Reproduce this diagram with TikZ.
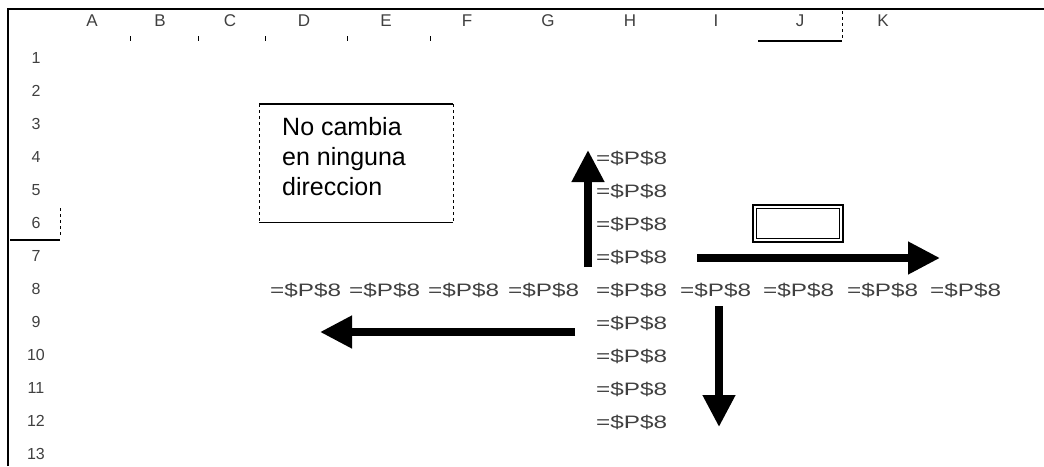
\documentclass[tikz,border=0pt]{standalone}
\usepackage{fontspec}
\setmainfont{Liberation Sans}
\usepackage{graphicx}
\usetikzlibrary{arrows.meta,positioning}

\newcommand{\pref}{\scalebox{1.35}[1]{=\$P\$8}}

\tikzset{
  cellref/.style={font=\fontsize{18}{18}\selectfont, text=black!75, anchor=west, inner sep=0pt},
  colhead/.style={font=\fontsize{17}{17}\selectfont, text=black!75, inner sep=0pt},
  rowhead/.style={font=\fontsize{16}{16}\selectfont, text=black!75, inner sep=0pt},
  bigarrow/.style={line width=7.5pt, -{Triangle[width=31pt,length=32pt]}},
}

\begin{document}
\begin{tikzpicture}[x=1pt,y=-1pt]
  \useasboundingbox (0,0) rectangle (1044,466);

  % ======= sheet frame and headers =======
  \draw[line width=1.6pt] (8,466) -- (8,9) -- (1044,9);
  \foreach \c/\x in {A/92,B/160,C/230,D/304,E/386,F/467,G/548,H/630,I/716,J/800,K/883} {
    \node[colhead] (col\c) at (\x,21) {\c};
  }
  \foreach \x in {130,198,265,347,430} {
    \draw[thin] (\x,36) -- (\x,41);
  }
  % active column J
  \draw[line width=1.5pt] (758,41) -- (842,41);
  \draw[thin, dashed] (842,11) -- (842,40);

  \foreach \r in {1,...,13} {
    \node[rowhead] (row\r) at (36,{25+33*\r}) {\r};
  }
  % active row 6
  \draw[line width=1.5pt] (10,240) -- (60,240);
  \draw[thin, dashed] (60,208) -- (60,238);

  % selected cell J6
  \draw[line width=2pt] (753,205) rectangle (843,242);
  \draw[thin] (756.5,208.5) rectangle (839.5,238.5);

  % ======= note box =======
  \node[font=\fontsize{25}{30}\selectfont, anchor=west, align=left, inner sep=0pt] (note) at (282,157)
    {No cambia\\en ninguna\\direccion};
  \draw[line width=1.2pt] (259,104) -- (453,104);
  \draw[line width=1pt] (259,222) -- (453,222);
  \draw[thin, dashed] (259,104) -- (259,222);
  \draw[thin, dashed] (453,104) -- (453,222);

  % ======= references =======
  % row 8
  \foreach \x [count=\i] in {270,349,428,508,596,680,763,847,930} {
    \node[cellref] (rowref\i) at (\x,290) {\pref};
  }
  % column H
  \foreach \r in {4,5,6,7,9,10,11,12} {
    \node[cellref] (colref\r) at (596,{26+33*\r}) {\pref};
  }

  % ======= arrows =======
  \coordinate (upS) at (588,267);   \coordinate (upT) at (588,150);
  \coordinate (rightS) at (697,258); \coordinate (rightT) at (940,258);
  \coordinate (leftS) at (575,332);  \coordinate (leftT) at (320,332);
  \coordinate (downS) at (719,306);  \coordinate (downT) at (719,427);
  \draw[bigarrow] (upS) -- (upT);
  \draw[bigarrow] (rightS) -- (rightT);
  \draw[bigarrow] (leftS) -- (leftT);
  \draw[bigarrow] (downS) -- (downT);
\end{tikzpicture}
\end{document}
